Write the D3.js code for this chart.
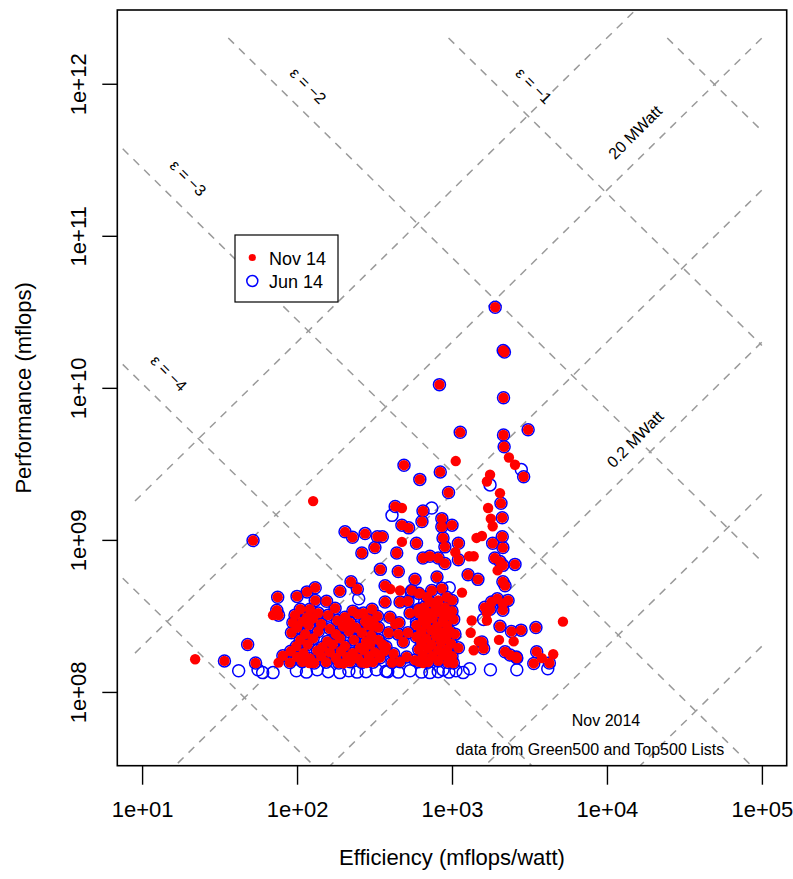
<!DOCTYPE html>
<html>
<head>
<meta charset="utf-8">
<script src="https://cdn.jsdelivr.net/npm/d3@7"></script>
<style>
  body { margin: 0; background: #ffffff; }
  text { font-family: "Liberation Sans", Arial, Helvetica, sans-serif; fill: #000; }
</style>
</head>
<body>
<svg id="chart" width="793" height="879"></svg>
<script>
// ---------------- data ----------------
const xTicks = [1e1, 1e2, 1e3, 1e4, 1e5];
const xTickLabels = ["1e+01", "1e+02", "1e+03", "1e+04", "1e+05"];
const yTicks = [1e8, 1e9, 1e10, 1e11, 1e12];
const yTickLabels = ["1e+08", "1e+09", "1e+10", "1e+11", "1e+12"];
const xLimits = [10, 1e5];      // efficiency, mflops/watt
const yLimits = [5e7, 2e12];    // performance, mflops

// constant-power reference lines (watts) and their labels
const powerLevels = [2e3, 2e4, 2e5, 2e6, 2e7, 2e8];
const powerLabelLevels = [2e7, 2e5];
const powerLabelTexts = ["20 MWatt", "0.2 MWatt"];

// epsilon reference lines: efficiency x performance is constant along each
const epsilonLevels = [0, -1, -2, -3, -4, -5];
const epsilonProducts = [4.9e16, 1.9e15, 7.2e13, 2.8e12, 1.07e11, 4.2e9];
const epsilonLabelLevels = [-1, -2, -3, -4];

// systems present in both lists: [efficiency, performance]
const bothLists = [
  [1900,3.39e10],[2140,1.76e10],[2180,1.72e10],[830,1.05e10],[2150,8.6e9],[3100,5.3e9],
  [1130,5.1e9],[2150,4.9e9],[2170,4.1e9],[490,3.1e9],[620,2.5e9],[840,2.8e9],[950,2.05e9],
  [2070,1.74e9],[2900,2.6e9],[430,1.66e9],[650,1.55e9],[860,1.38e9],[475,1.25e9],[525,1.2e9],
  [640,1.32e9],[860,1.22e9],[1000,1.25e9],[2110,1.4e9],[355,1.05e9],[590,9.5e8],[875,1.03e9],
  [900,9.0e8],[1100,9.5e8],[1830,9.5e8],[2110,1.05e9],[2130,8.9e8],[440,8.2e8],[650,7.6e8],
  [720,7.8e8],[815,7.6e8],[900,7.0e8],[1100,7.4e8],[1890,7.6e8],[2040,7.2e8],[2130,6.8e8],
  [2550,6.9e8],[345,6.4e8],[450,6.2e8],[577,5.5e8],[800,5.7e8],[1270,5.9e8],[1470,5.5e8],
  [2130,5.3e8],[2200,5.0e8],[370,5.0e8],[550,4.65e8],[610,4.45e8],[740,4.65e8],[860,4.8e8],
  [925,4.2e8],[370,3.9e8],[462,3.9e8],[520,3.95e8],[610,3.5e8],[720,3.9e8],[1000,4.0e8],
  [1630,3.6e8],[1800,3.9e8],[1960,4.1e8],[2130,3.8e8],[2300,4.0e8],[1760,3.5e8],[2130,3.45e8],
  [398,3.1e8],[720,3.3e8],[860,3.4e8],[1000,3.4e8],[335,2.65e8],[390,2.45e8],[450,2.4e8],
  [520,2.45e8],[740,2.55e8],[925,2.75e8],[1045,2.4e8],[2040,2.7e8],[2420,2.5e8],[2790,2.55e8],
  [3480,2.65e8],[1560,2.13e8],[1600,1.93e8],[2200,1.84e8],[2370,1.75e8],[2600,1.7e8],
  [3520,1.84e8],[3370,1.54e8],[4250,1.55e8],[355,2.05e8],[462,1.58e8],[577,1.62e8],
  [1020,1.55e8],[1100,1.95e8],[2620,1.67e8],[204,1.13e9],[228,1.04e9],[275,1.1e9],[330,1.05e9],
  [262,8.2e8],[318,8.9e8],[52,9.9e8],[223,5.3e8],[245,4.75e8],[189,4.6e8],[155,3.95e8],
  [131,4.85e8],[116,4.55e8],[100,4.25e8],[75,4.2e8],[74,3.45e8],[76,3.2e8],[121,3.5e8],
  [131,4.0e8],[116,3.1e8],[94,2.85e8],[48,2.05e8],[54,1.55e8],[34,1.6e8],[81,1.73e8],[305,2.7e8],
  // dense group around 100-350 mflops/watt
  [105,3.5e8],[137,3.3e8],[176,3.55e8],[229,3.4e8],[268,3.3e8],[305,3.5e8],
  [97,3.2e8],[127,3.05e8],[159,3.2e8],[204,3.1e8],[247,3.25e8],[287,3.0e8],[330,3.15e8],
  [108,2.9e8],[143,2.8e8],[182,2.95e8],[220,2.85e8],[275,2.9e8],[313,2.8e8],
  [100,2.65e8],[119,2.75e8],[163,2.6e8],[198,2.7e8],[240,2.65e8],[287,2.75e8],
  [92,2.45e8],[113,2.4e8],[137,2.5e8],[178,2.4e8],[216,2.5e8],[262,2.45e8],[301,2.35e8],
  [105,2.2e8],[127,2.25e8],[157,2.15e8],[189,2.25e8],[233,2.2e8],[279,2.15e8],[335,2.2e8],
  [99,2.0e8],[117,2.05e8],[146,1.97e8],[170,2.05e8],[204,2.0e8],[255,1.95e8],[296,2.05e8],
  [91,1.85e8],[110,1.8e8],[135,1.87e8],[163,1.82e8],[192,1.85e8],[229,1.8e8],[270,1.88e8],[318,1.82e8],[365,1.85e8],
  [100,1.7e8],[121,1.66e8],[143,1.72e8],[178,1.67e8],[211,1.7e8],[247,1.66e8],[291,1.72e8],[343,1.68e8],
  [90,1.56e8],[108,1.58e8],[129,1.55e8],[154,1.57e8],[186,1.55e8],[220,1.58e8],[262,1.56e8],[309,1.57e8],
  // dense group around 600-1000 mflops/watt
  [610,3.3e8],[700,3.25e8],[815,3.35e8],[945,3.2e8],[650,3.0e8],[750,3.05e8],[875,2.95e8],[1025,3.0e8],
  [590,2.75e8],[680,2.8e8],[800,2.7e8],[635,2.5e8],[735,2.55e8],[850,2.45e8],[970,2.5e8],
  [590,2.3e8],[680,2.25e8],[790,2.32e8],[915,2.28e8],[635,2.1e8],[735,2.05e8],[850,2.12e8],[985,2.08e8],
  [610,1.9e8],[700,1.93e8],[815,1.88e8],[930,1.9e8],[650,1.74e8],[750,1.72e8],[875,1.75e8],[1000,1.72e8],
  [610,1.58e8],[700,1.57e8],[815,1.6e8],[945,1.56e8],[690,4.2e8],[780,3.7e8],[660,3.6e8],[900,3.6e8],
  [375,1.98e8],[420,1.78e8],[485,2.13e8],[410,1.56e8],[510,1.7e8],[455,2.85e8],[536,3.3e8]
];

// systems only in the November 2014 list
const novOnly = [
  [127,1.8e9],[22,1.64e8],[1057,3.3e9],[1760,2.68e9],[1680,2.42e9],[2040,2.03e9],[2330,3.48e9],
  [2550,3.12e9],[1710,1.62e9],[1780,1.38e9],[1830,1.23e9],[1440,1.03e9],[1560,1.06e9],[1050,8.3e8],
  [1290,7.8e8],[1380,7.8e8],[1970,6.3e8],[1160,4.5e8],[1680,2.95e8],[1340,2.95e8],[5200,2.9e8],
  [1320,2.45e8],[2010,2.2e8],[2500,2.15e8],[1490,2.15e8],[1380,1.88e8],[3800,1.67e8],[4500,1.77e8],
  [475,1.62e9],[475,9.7e8],[400,4.75e8],[462,4.65e8],[430,2.8e8],[70,3.2e8],[76,1.56e8],[622,4.45e8],
  [815,4.0e8],[1680,3.3e8],[120,1.55e8],[200,1.54e8],[280,1.55e8],[650,1.55e8]
];

// systems only in the June 2014 list
const junOnly = [
  [1760,2.3e9],[2800,2.9e9],[740,1.62e9],[410,1.45e9],[250,4.1e8],[42,1.38e8],[60,1.34e8],
  [70,1.34e8],[56,1.4e8],[960,4.85e8],[560,4.0e8],[590,2.9e8],[1600,3.0e8],[1180,1.34e8],
  [1770,1.4e8],[2620,1.4e8],[4150,1.42e8],[545,4.55e8],[318,1.95e8],
  [99,1.38e8],[115,1.35e8],[135,1.4e8],[159,1.36e8],[189,1.34e8],[216,1.38e8],[244,1.35e8],
  [279,1.36e8],[325,1.4e8],[375,1.37e8],[385,1.36e8],[450,1.35e8],[536,1.38e8],[635,1.35e8],
  [720,1.34e8],[815,1.36e8],[875,1.4e8],[955,1.35e8],[1060,1.38e8],[1300,1.42e8]
];

const nov14 = bothLists.concat(novOnly);
const jun14 = bothLists.concat(junOnly);

// ---------------- layout ----------------
const W = 793, H = 879;
const box = { left: 117.3, right: 786.7, top: 10, bottom: 765.7 };
const fontMain = 22, fontLegend = 18, fontDiag = 16, fontNote = 16;
const gridColor = "#9a9a9a";
const red = "#ff0000", blue = "#0000ff";

// log axes padded by 4% of the decade span on each side
function padLog(lim) {
  const a = Math.log10(lim[0]), b = Math.log10(lim[1]), d = (b - a) * 0.04;
  return [Math.pow(10, a - d), Math.pow(10, b + d)];
}
const x = d3.scaleLog().domain(padLog(xLimits)).range([box.left, box.right]);
const y = d3.scaleLog().domain(padLog(yLimits)).range([box.bottom, box.top]);

const svg = d3.select("#chart");
svg.append("rect").attr("width", W).attr("height", H).attr("fill", "#fff");

svg.append("clipPath").attr("id", "plotclip")
  .append("rect")
  .attr("x", box.left).attr("y", box.top)
  .attr("width", box.right - box.left).attr("height", box.bottom - box.top);

const plot = svg.append("g").attr("clip-path", "url(#plotclip)");
const line = d3.line().x(d => x(d[0])).y(d => y(d[1]));

// constant-power lines: P = watts * E
const powerEmin = 9, lineEmax = 1e5;
plot.append("g").selectAll("path").data(powerLevels).join("path")
  .attr("d", w => line([[powerEmin, w * powerEmin], [lineEmax, w * lineEmax]]))
  .attr("fill", "none").attr("stroke", gridColor).attr("stroke-width", 1.5)
  .attr("stroke-dasharray", "8,7");

// epsilon lines: P = K / E, capped at the top performance limit
const epsEmin = 7.5, epsPmax = yLimits[1];
plot.append("g").selectAll("path").data(epsilonProducts).join("path")
  .attr("d", k => {
    const e0 = Math.max(epsEmin, k / epsPmax);
    return line([[e0, k / e0], [lineEmax, k / lineEmax]]);
  })
  .attr("fill", "none").attr("stroke", gridColor).attr("stroke-width", 1.5)
  .attr("stroke-dasharray", "8,7");

// June 2014: open blue circles
plot.append("g").selectAll("circle").data(jun14).join("circle")
  .attr("cx", d => x(d[0])).attr("cy", d => y(d[1])).attr("r", 6)
  .attr("fill", "none").attr("stroke", blue).attr("stroke-width", 1.5);

// November 2014: filled red dots
plot.append("g").selectAll("circle").data(nov14).join("circle")
  .attr("cx", d => x(d[0])).attr("cy", d => y(d[1])).attr("r", 5.2)
  .attr("fill", red);

// diagonal line labels, anchored in data space
const epsLabelAnchors = [[3380, 9.7e11], [118, 9.7e11], [19.8, 2.4e11], [14.9, 1.25e10]];
epsilonLabelLevels.forEach((lev, i) => {
  const a = epsLabelAnchors[i];
  svg.append("text")
    .attr("transform", `translate(${x(a[0])},${y(a[1])}) rotate(45)`)
    .attr("text-anchor", "middle").attr("dy", "0.35em")
    .attr("font-size", fontDiag)
    .text(`ε = −${Math.abs(lev)}`);
});
const powerLabelAnchors = [[15200, 4.8e11], [15200, 4.6e9]];
powerLabelLevels.forEach((w, i) => {
  const a = powerLabelAnchors[i];
  svg.append("text")
    .attr("transform", `translate(${x(a[0])},${y(a[1])}) rotate(-45)`)
    .attr("text-anchor", "middle").attr("dy", "0.35em")
    .attr("font-size", fontDiag)
    .text(powerLabelTexts[i]);
});

// notes in lower right
svg.append("text").attr("x", 606).attr("y", 726).attr("text-anchor", "middle")
  .attr("font-size", fontNote).text("Nov 2014");
svg.append("text").attr("x", 590).attr("y", 755).attr("text-anchor", "middle")
  .attr("font-size", fontNote).text("data from Green500 and Top500 Lists");

// legend
const leg = svg.append("g").attr("transform", "translate(235,235)");
leg.append("rect").attr("width", 103).attr("height", 67)
  .attr("fill", "#fff").attr("stroke", "#000").attr("stroke-width", 1.2);
leg.append("circle").attr("cx", 17.3).attr("cy", 22.5).attr("r", 3.6).attr("fill", red);
leg.append("text").attr("x", 34).attr("y", 29.5).attr("font-size", fontLegend).text("Nov 14");
leg.append("circle").attr("cx", 17.3).attr("cy", 46).attr("r", 5.5)
  .attr("fill", "none").attr("stroke", blue).attr("stroke-width", 1.5);
leg.append("text").attr("x", 34).attr("y", 53).attr("font-size", fontLegend).text("Jun 14");

// axes
const xAxis = svg.append("g").attr("transform", `translate(0,${box.bottom})`)
  .call(d3.axisBottom(x).tickValues(xTicks).tickFormat((d, i) => xTickLabels[i]).tickSize(19).tickSizeOuter(0));
xAxis.select(".domain").remove();
xAxis.selectAll(".tick line").attr("stroke", "#000").attr("stroke-width", 1.4);
xAxis.selectAll(".tick text").attr("y", 51.5).attr("dy", null)
  .attr("font-size", fontMain).attr("font-family", null).attr("fill", "#000");

const yAxis = svg.append("g").attr("transform", `translate(${box.left},0)`)
  .call(d3.axisLeft(y).tickValues(yTicks).tickFormat((d, i) => yTickLabels[i]).tickSize(15).tickSizeOuter(0));
yAxis.select(".domain").remove();
yAxis.selectAll(".tick line").attr("stroke", "#000").attr("stroke-width", 1.4);
yAxis.selectAll(".tick text").attr("transform", "rotate(-90)")
  .attr("x", 0).attr("y", -31.3).attr("dy", null).attr("text-anchor", "middle")
  .attr("font-size", fontMain).attr("font-family", null).attr("fill", "#000");

// plot frame
svg.append("rect")
  .attr("x", box.left).attr("y", box.top)
  .attr("width", box.right - box.left).attr("height", box.bottom - box.top)
  .attr("fill", "none").attr("stroke", "#000").attr("stroke-width", 1.6);

// axis titles
svg.append("text").attr("x", (box.left + box.right) / 2).attr("y", 865)
  .attr("text-anchor", "middle").attr("font-size", fontMain).text("Efficiency (mflops/watt)");
svg.append("text").attr("transform", `translate(31,${(box.top + box.bottom) / 2}) rotate(-90)`)
  .attr("text-anchor", "middle").attr("font-size", fontMain).text("Performance (mflops)");
</script>
</body>
</html>
